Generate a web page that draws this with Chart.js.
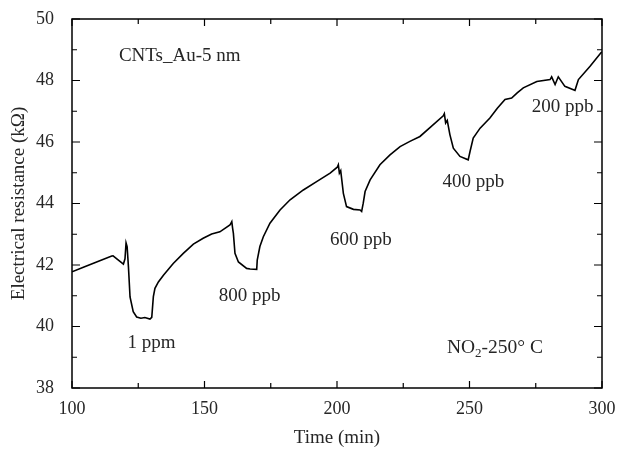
<!DOCTYPE html>
<html>
<head>
<meta charset="utf-8">
<script src="https://cdn.jsdelivr.net/npm/chart.js@4"></script>
<style>
html,body{margin:0;padding:0;background:#fff;}
canvas{display:block;}
</style>
</head>
<body>
<canvas id="c" width="619" height="449"></canvas>
<script>
// Time (min)
const timeMin = [100,105,110,115,115.5,119.4,120.0,120.4,120.8,121.3,121.9,123.1,124.4,126,127.5,129.4,130.1,130.7,131.3,132.6,134.5,138.2,142,145.8,149.5,152.7,155.8,159.6,160.3,160.6,160.9,161.5,162.8,165.9,167.2,169.7,169.9,170.9,172.2,174.7,178.5,182.3,187.3,192.3,197.4,200.1,200.5,200.9,201.4,202.4,203.6,206.2,208.7,209.3,209.9,210.6,212.5,216.2,220,223.8,227.5,231.3,235.5,240.1,240.5,241,241.6,242.6,243.9,246.4,249.5,250.2,251.4,254,257.7,260.5,263.4,265.9,268,270.3,275.4,280.4,281,282.3,283.5,286,289.2,289.8,291.1,295.5,299.6,300];
// Electrical resistance (kOhm)
const resistance = [41.78,41.95,42.12,42.29,42.30,42.03,42.2,42.72,42.6,41.94,40.96,40.48,40.31,40.27,40.29,40.24,40.3,40.97,41.24,41.45,41.67,42.05,42.38,42.68,42.87,43.01,43.08,43.30,43.41,43.2,43.03,42.38,42.1,41.89,41.87,41.86,42.16,42.6,42.92,43.36,43.79,44.12,44.44,44.71,44.99,45.18,45.26,44.99,45.07,44.33,43.9,43.81,43.79,43.74,44.01,44.39,44.77,45.26,45.58,45.85,46.02,46.18,46.5,46.85,46.92,46.62,46.70,46.24,45.80,45.53,45.42,45.69,46.13,46.45,46.78,47.1,47.38,47.43,47.6,47.76,47.97,48.03,48.12,47.87,48.12,47.81,47.70,47.68,48.03,48.46,48.90,48.93];

const xTicks = [100,150,200,250,300];
const yTicks = [38,40,42,44,46,48,50];
const xMinor = [125,175,225,275];
const yMinor = [39,41,43,45,47,49];

// annotation labels
const labelTexts = ["CNTs_Au-5 nm","1 ppm","800 ppb","600 ppb","400 ppb","200 ppb"];
const labelX = [117.7,130,167,209,251.5,285.1];
const labelY = [48.78,39.46,40.99,42.81,44.7,47.15];
const labelAlign = ["left","center","center","center","center","center"];

const FONT = "'Liberation Serif', 'Times New Roman', serif";
const TXT = '#262626';

const framePlugin = {
  id: 'frame',
  afterDraw(chart) {
    const {ctx, chartArea: a, scales: {x, y}} = chart;
    ctx.save();
    ctx.strokeStyle = '#000';
    ctx.lineWidth = 1.5;
    ctx.strokeRect(a.left, a.top, a.right - a.left, a.bottom - a.top);
    ctx.lineWidth = 1.2;
    ctx.beginPath();
    const tick = (vals, len, isX) => {
      vals.forEach(v => {
        if (isX) {
          const p = x.getPixelForValue(v);
          ctx.moveTo(p, a.bottom); ctx.lineTo(p, a.bottom - len);
          ctx.moveTo(p, a.top); ctx.lineTo(p, a.top + len);
        } else {
          const p = y.getPixelForValue(v);
          ctx.moveTo(a.left, p); ctx.lineTo(a.left + len, p);
          ctx.moveTo(a.right, p); ctx.lineTo(a.right - len, p);
        }
      });
    };
    tick(xTicks, 7, true); tick(xMinor, 5, true);
    tick(yTicks, 8, false); tick(yMinor, 5, false);
    ctx.stroke();

    ctx.fillStyle = TXT;
    ctx.textBaseline = 'middle';
    ctx.font = '19px ' + FONT;
    labelTexts.forEach((t, i) => {
      ctx.textAlign = labelAlign[i];
      ctx.fillText(t, x.getPixelForValue(labelX[i]), y.getPixelForValue(labelY[i]));
    });
    // NO2-250°C with subscript
    const cx = x.getPixelForValue(259.6), cy = y.getPixelForValue(39.3);
    const p1 = 'NO', p3 = '-250\u00B0 C';
    ctx.textAlign = 'left';
    ctx.font = '19.5px ' + FONT;
    const w1 = ctx.measureText(p1).width;
    const w3 = ctx.measureText(p3).width;
    ctx.font = '13px ' + FONT;
    const w2 = ctx.measureText('2').width;
    const sx = cx - (w1 + w2 + w3) / 2;
    ctx.font = '19.5px ' + FONT;
    ctx.fillText(p1, sx, cy);
    ctx.font = '13px ' + FONT;
    ctx.fillText('2', sx + w1, cy + 6);
    ctx.font = '19.5px ' + FONT;
    ctx.fillText(p3, sx + w1 + w2, cy);
    ctx.restore();
  }
};

new Chart(document.getElementById('c'), {
  type: 'line',
  data: {
    datasets: [{
      data: timeMin.map((t, i) => ({x: t, y: resistance[i]})),
      borderColor: '#000',
      borderWidth: 1.6,
      pointRadius: 0,
      tension: 0,
      fill: false
    }]
  },
  options: {
    responsive: false,
    animation: false,
    layout: {padding: {top: 19, right: 17, left: 0, bottom: 0}},
    plugins: {legend: {display: false}, tooltip: {enabled: false}},
    scales: {
      x: {
        type: 'linear', min: 100, max: 300,
        afterBuildTicks: s => { s.ticks = xTicks.map(v => ({value: v})); },
        afterFit: s => { s.height = 61; s.paddingLeft = 0; s.paddingRight = 0; },
        grid: {display: false}, border: {display: false},
        ticks: {color: TXT, padding: 2, maxRotation: 0, font: {family: FONT, size: 18}},
        title: {display: true, text: 'Time (min)', color: TXT, font: {family: FONT, size: 19}, padding: {top: 2, bottom: 0}}
      },
      y: {
        type: 'linear', min: 38, max: 50,
        afterBuildTicks: s => { s.ticks = yTicks.map(v => ({value: v})); },
        afterFit: s => { s.width = 72; s.paddingTop = 0; s.paddingBottom = 0; },
        grid: {display: false}, border: {display: false},
        ticks: {color: TXT, padding: 10, font: {family: FONT, size: 18}},
        title: {display: true, text: 'Electrical resistance (k\u03A9)', color: TXT, font: {family: FONT, size: 19}, padding: {top: 8, bottom: 4}}
      }
    }
  },
  plugins: [framePlugin]
});
</script>
</body>
</html>
